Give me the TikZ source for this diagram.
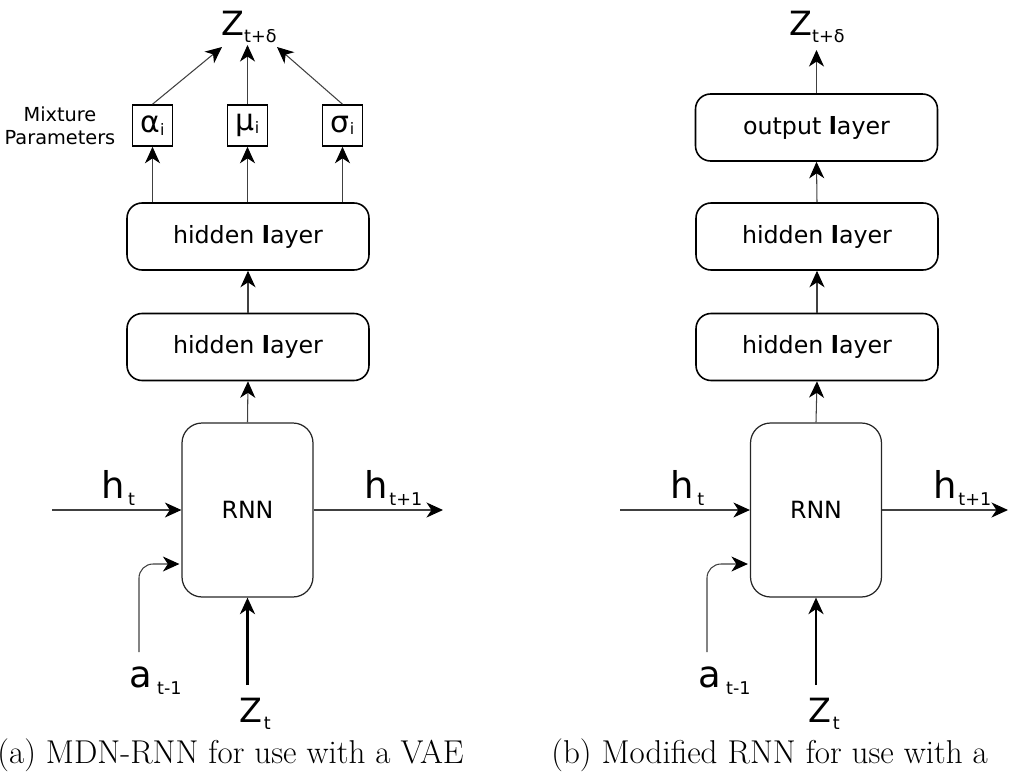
\documentclass[tikz,border=0pt]{standalone}
\usepackage{fontspec}
\newfontfamily\dv{DejaVu Sans}
\usetikzlibrary{arrows.meta,calc}

% label: size, gap, main glyph, lowered subscript
\newcommand\lbl[4]{{\fontsize{#1}{#1}\selectfont #3}\kern#2\raisebox{-4pt}{\fontsize{10}{10}\selectfont #4}}
% symbol with a small index
\newcommand\prm[1]{{\fontsize{17}{17}\selectfont #1}\raisebox{-1.5pt}{\fontsize{9}{9}\selectfont i}}
\newcommand\layertext[1]{#1 {\bfseries l}ayer}

\tikzset{
  layer/.style={draw=black, line width=0.9pt, rounded corners=0.3cm,
    minimum width=4.84cm, minimum height=1.34cm, inner sep=0,
    font=\dv\fontsize{13.5}{16}\selectfont},
  rnnbox/.style={draw=black!85, line width=0.7pt, rounded corners=0.4cm,
    minimum width=2.62cm, minimum height=3.48cm, inner sep=0,
    font=\dv\fontsize{13.5}{16}\selectfont},
  parambox/.style={draw=black, line width=0.9pt, minimum width=0.8cm,
    minimum height=0.82cm, inner sep=0, font=\dv},
  lab/.style={font=\dv, inner sep=0, anchor=base west},
  conn/.style={draw=black!75, line width=0.6pt,
    -{Stealth[length=0.33cm,width=0.3cm,inset=0.1cm,color=black]}},
  zarrow/.style={conn, draw=black, line width=1.3pt},
  caption/.style={inner sep=0, font=\fontsize{18.8}{22}\selectfont}
}

\begin{document}
\begin{tikzpicture}[x=0.02cm,y=-0.02cm]
\useasboundingbox (0,0) rectangle (1009,778);

% ---------------- (a) MDN-RNN ----------------
\node[rnnbox] (rnnA) at (247.5,510) {RNN};
\node[layer] (hidA1) at (248,347) {\layertext{hidden}};
\node[layer] (hidA2) at (248,236.5) {\layertext{hidden}};
\node[parambox] (alpha) at (152.5,125.5) {\prm{α}};
\node[parambox] (mu) at (247.5,125.5) {\prm{μ}};
\node[parambox] (sigma) at (342.5,125.5) {\prm{σ}};
\node[font=\dv\fontsize{11}{12.8}\selectfont, align=center, inner sep=0] (mix) at (60,126) {Mixture\\Parameters};

\node[lab] (zoutA) at (221,35) {\lbl{19}{0pt}{Z}{t+δ}};
\coordinate (tipA1) at (222,47);
\coordinate (tipA2) at (247.5,45);
\coordinate (tipA3) at (277,47);

\draw[conn] (rnnA.north) -- (hidA1.south);
\draw[conn] (hidA1.north) -- (hidA2.south);
\draw[conn] (alpha.south |- hidA2.north) -- (alpha.south);
\draw[conn] (mu.south |- hidA2.north) -- (mu.south);
\draw[conn] (sigma.south |- hidA2.north) -- (sigma.south);
\draw[conn] (alpha.north) -- (tipA1);
\draw[conn] (mu.north) -- (tipA2);
\draw[conn] (sigma.north) -- (tipA3);

\node[lab] (htA) at (101,498) {\lbl{21}{2pt}{h}{t}};
\node[lab] (htnA) at (364,498) {\lbl{21}{1pt}{h}{t+1}};
\node[lab] (aA) at (129,687) {\lbl{21}{3pt}{a}{t-1}};
\node[lab] (ztA) at (239,722) {\lbl{19}{1pt}{Z}{t}};

\coordinate (hinA) at (52,510);
\coordinate (houtA) at (443,510);
\coordinate (ainA) at (139,652);
\coordinate (zinA) at (247.5,685);
\draw[conn] (hinA) -- (rnnA.west);
\draw[conn] (rnnA.east) -- (houtA);
\draw[conn, rounded corners=0.28cm] (ainA) |- ($(rnnA.west)+(-2,54)$);
\draw[zarrow] (zinA) -- (rnnA.south);

\node[caption, anchor=base east] (capA) at (464,763) {(a) MDN-RNN for use with a VAE};

% ---------------- (b) Modified RNN ----------------
\node[rnnbox] (rnnB) at (816,510) {RNN};
\node[layer] (hidB1) at (817,347) {\layertext{hidden}};
\node[layer] (hidB2) at (817,236.5) {\layertext{hidden}};
\node[layer] (outB) at (816.5,127.5) {\layertext{output}};

\node[lab] (zoutB) at (789,35) {\lbl{19}{0pt}{Z}{t+δ}};
\coordinate (tipB) at (816.5,50);

\draw[conn] (rnnB.north) -- (hidB1.south);
\draw[conn] (hidB1.north) -- (hidB2.south);
\draw[conn] (hidB2.north) -- (outB.south);
\draw[conn] (outB.north) -- (tipB);

\node[lab] (htB) at (670,498) {\lbl{21}{2pt}{h}{t}};
\node[lab] (htnB) at (933,498) {\lbl{21}{1pt}{h}{t+1}};
\node[lab] (aB) at (698,687) {\lbl{21}{3pt}{a}{t-1}};
\node[lab] (ztB) at (808,722) {\lbl{19}{1pt}{Z}{t}};

\coordinate (hinB) at (620,510);
\coordinate (houtB) at (1008,510);
\coordinate (ainB) at (707,652);
\coordinate (zinB) at (816,685);
\draw[conn] (hinB) -- (rnnB.west);
\draw[conn] (rnnB.east) -- (houtB);
\draw[conn, rounded corners=0.28cm] (ainB) |- ($(rnnB.west)+(-2,54)$);
\draw[zarrow] (zinB) -- (rnnB.south);

\node[caption, anchor=base west] (capB) at (551,763) {(b) Modified RNN for use with a};
\end{tikzpicture}
\end{document}
